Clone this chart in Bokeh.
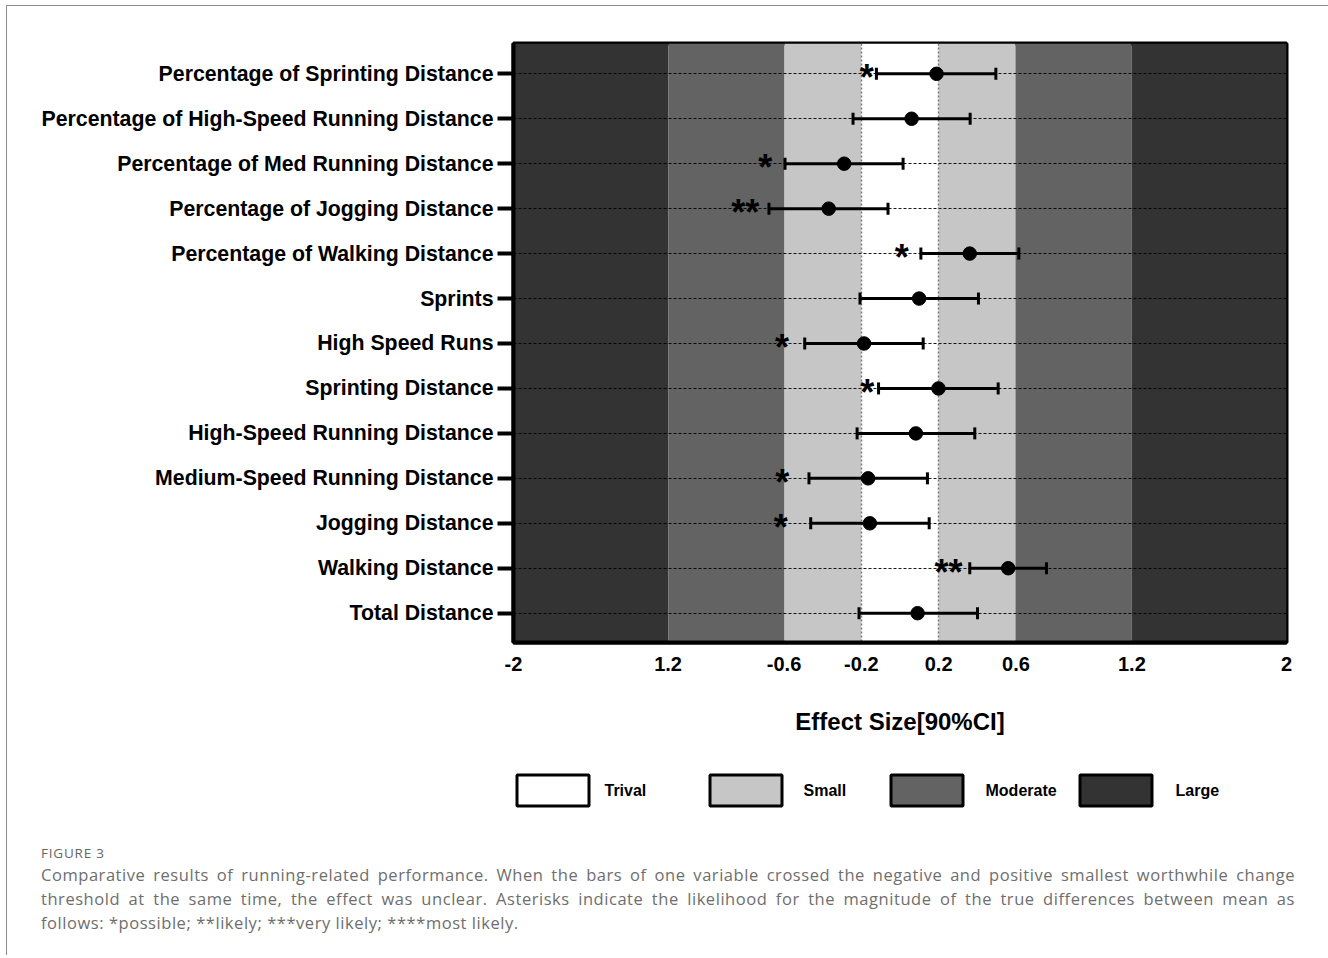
import math
from bokeh.plotting import figure
from bokeh.models import Range1d, FixedTicker, Div
from bokeh.layouts import column
from bokeh.embed import file_html
from bokeh.resources import INLINE
from bokeh.core.properties import value

# ---------------- data ----------------
variables = [
    "Percentage of Sprinting Distance",
    "Percentage of High-Speed Running Distance",
    "Percentage of Med Running Distance",
    "Percentage of Jogging Distance",
    "Percentage of Walking Distance",
    "Sprints",
    "High Speed Runs",
    "Sprinting Distance",
    "High-Speed Running Distance",
    "Medium-Speed Running Distance",
    "Jogging Distance",
    "Walking Distance",
    "Total Distance",
]
effect = [0.189, 0.060, -0.289, -0.369, 0.361, 0.099, -0.186, 0.199, 0.082, -0.165, -0.156, 0.560, 0.091]
ci_low = [-0.122, -0.243, -0.595, -0.678, 0.108, -0.207, -0.493, -0.111, -0.222, -0.471, -0.462, 0.361, -0.212]
ci_high = [0.496, 0.363, 0.016, -0.062, 0.615, 0.406, 0.120, 0.508, 0.387, 0.142, 0.151, 0.758, 0.401]
stars = ["*", "", "*", "**", "*", "", "*", "*", "", "*", "*", "**", ""]
star_x = [-0.172, None, -0.697, -0.801, 0.009, None, -0.610, -0.169, None, -0.609, -0.617, 0.251, None]

band_lo = [-2.0, -1.2, -0.6, -0.2, 0.2, 0.6, 1.2]
band_hi = [-1.2, -0.6, -0.2, 0.2, 0.6, 1.2, 2.0]
band_class = ["Large", "Moderate", "Small", "Trival", "Small", "Moderate", "Large"]
legend_labels = ["Trival", "Small", "Moderate", "Large"]
class_colors = {"Trival": "#ffffff", "Small": "#c6c6c6", "Moderate": "#636363", "Large": "#333333"}
swc = [-0.2, 0.2]

x_ticks = [-2.0, -1.2, -0.6, -0.2, 0.2, 0.6, 1.2, 2.0]
x_tick_labels = ["-2", "1.2", "-0.6", "-0.2", "0.2", "0.6", "1.2", "2"]
x_title = "Effect Size[90%CI]"

caption_head = "FIGURE 3"
caption_lines = [
    "Comparative results of running-related performance. When the bars of one variable crossed the negative and positive smallest worthwhile change",
    "threshold at the same time, the effect was unclear. Asterisks indicate the likelihood for the magnitude of the true differences between mean as",
    "follows: *possible; **likely; ***very likely; ****most likely.",
]

FONT = "Liberation Sans"

# ---------------- main chart ----------------
n = len(variables)
ys = [n - 1 - i for i in range(n)]

p = figure(frame_width=773, frame_height=599,
           x_range=Range1d(-2, 2), y_range=Range1d(-0.652, 12.674),
           min_border_left=506, min_border_right=42, min_border_top=37, min_border_bottom=103,
           output_backend="svg", toolbar_location=None)
p.background_fill_color = "white"
p.border_fill_color = "white"
p.outline_line_color = "black"
p.outline_line_width = 4
p.xgrid.visible = False
p.ygrid.visible = False

p.vstrip(x0=band_lo, x1=band_hi, fill_color=[class_colors[c] for c in band_class], line_color=None)
p.hspan(y=ys, line_color="black", line_width=1, line_dash="3 2", line_alpha=0.9)
p.vspan(x=swc, line_color="#7a7a7a", line_width=1.5, line_dash="2 2")

p.segment(x0=ci_low, y0=ys, x1=ci_high, y1=ys, line_color="black", line_width=3)
p.scatter(x=ci_low + ci_high, y=ys + ys, marker="dash", angle=math.pi / 2, size=12,
          line_color="black", line_width=3)
p.scatter(x=effect, y=ys, marker="circle", size=13.5, fill_color="black", line_color="black")

sx, sy, st = [], [], []
for x, y, s in zip(star_x, ys, stars):
    if s:
        sx.append(x); sy.append(y); st.append(s)
p.text(x=sx, y=sy, text=st, text_font=value(FONT), text_font_style="bold",
       text_font_size="36px", text_align="center", text_baseline="alphabetic",
       y_offset=4, text_color="black")

xa = p.xaxis[0]
xa.ticker = FixedTicker(ticks=x_ticks)
xa.major_label_overrides = {t: l for t, l in zip(x_ticks, x_tick_labels)}
xa.major_tick_out = 0
xa.major_tick_in = 0
xa.minor_tick_out = 0
xa.minor_tick_in = 0
xa.axis_line_width = 4
xa.axis_line_color = "black"
xa.major_label_text_font = FONT
xa.major_label_text_font_style = "bold"
xa.major_label_text_font_size = "20px"
xa.major_label_text_color = "black"
xa.major_label_standoff = 14
xa.axis_label = x_title
xa.axis_label_text_font = FONT
xa.axis_label_text_font_style = "bold"
xa.axis_label_text_font_size = "24px"
xa.axis_label_text_color = "black"
xa.axis_label_standoff = 34

ya = p.yaxis[0]
ya.ticker = FixedTicker(ticks=ys)
ya.major_label_overrides = {y: v for y, v in zip(ys, variables)}
ya.major_tick_out = 16
ya.major_tick_in = 0
ya.major_tick_line_width = 4
ya.major_tick_line_color = "black"
ya.minor_tick_out = 0
ya.minor_tick_in = 0
ya.axis_line_width = 4
ya.axis_line_color = "black"
ya.major_label_text_font = FONT
ya.major_label_text_font_style = "bold"
ya.major_label_text_font_size = "21.3px"
ya.major_label_text_color = "black"
ya.major_label_standoff = 4

# ---------------- legend (own small canvas; frame aligned with the chart frame) ----------------
LH = 90
FX0, FX1 = 513, 1286          # page pixel span of the frame, used as the legend's coordinate system
lf = figure(frame_width=773, frame_height=LH, x_range=Range1d(FX0, FX1), y_range=Range1d(0, LH),
            x_axis_type=None, y_axis_type=None,
            min_border_left=506, min_border_right=42, min_border_top=0, min_border_bottom=0,
            output_backend="svg", toolbar_location=None)
lf.outline_line_color = None
lf.grid.visible = False
lf.background_fill_color = "white"
lf.border_fill_color = "white"
box_cx = [552.5, 745.5, 926.5, 1115.5]     # legend layout, not data
label_x = [604, 803, 985, 1175]
lf.rect(x=box_cx, y=[LH - 45] * 4, width=72, height=31,
        fill_color=[class_colors[c] for c in legend_labels], line_color="black", line_width=3)
lf.text(x=label_x, y=[LH - 45] * 4, text=legend_labels, text_font=value(FONT),
        text_font_style="bold", text_font_size="16px", text_baseline="middle",
        text_align="left", text_color="black")

# ---------------- caption ----------------
line_html = ""
for i, ln in enumerate(caption_lines):
    if i == len(caption_lines) - 1:
        line_html += '<div style="text-align:left;white-space:nowrap;">%s</div>' % ln
    else:
        line_html += ('<div style="text-align:justify;text-align-last:justify;white-space:normal;">%s</div>' % ln)
cap_html = (
    '<div style="box-sizing:content-box;font-family:\'Open Sans\';color:#6e6e6e;padding-left:29px;width:1254px;">'
    '<div style="font-size:13.5px;letter-spacing:0.8px;line-height:20px;padding-top:3px;color:#666;">%s</div>'
    '<div style="font-size:16.5px;letter-spacing:0.55px;line-height:24px;">%s</div>'
    '</div>' % (caption_head, line_html)
)
cap = Div(text=cap_html, width=1321, height=110)

layout = column(p, lf, cap, margin=(5, 0, 0, 6),
                styles={"border-top": "1px solid #8c8c8c", "border-left": "1px solid #8c8c8c"})

open("out.html", "w").write(file_html(layout, INLINE))
